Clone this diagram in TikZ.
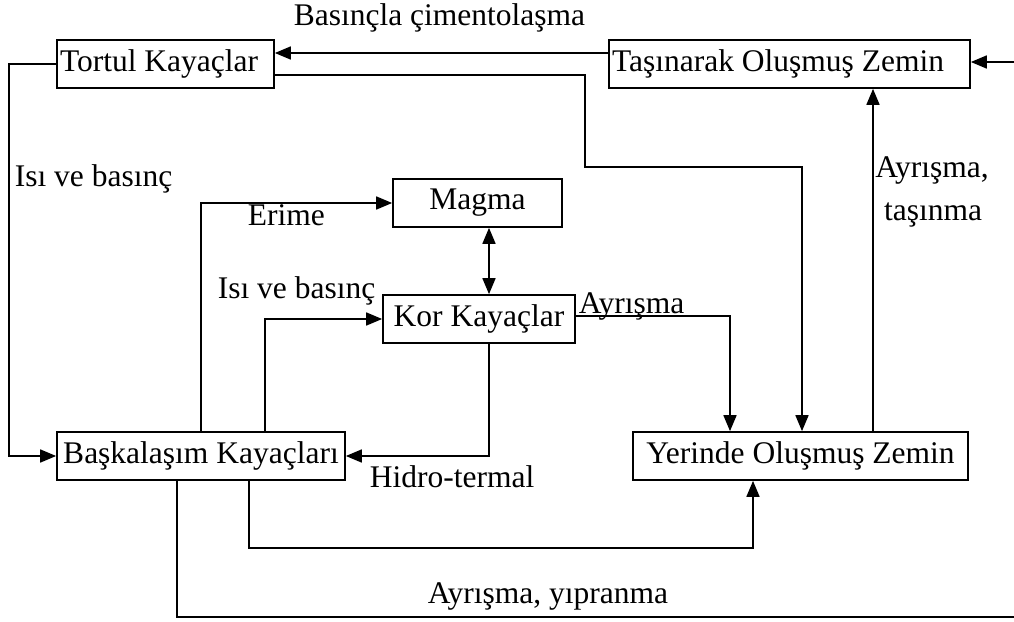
\documentclass[tikz,border=0pt]{standalone}
\usepackage{fontspec}
\setmainfont{Liberation Serif}
\usetikzlibrary{arrows.meta,calc}
\begin{document}
\begin{tikzpicture}[x=1pt,y=-1pt,
  font=\fontsize{31.5}{43}\selectfont,
  line width=1.7pt,
  box/.style={draw, inner xsep=3pt, inner ysep=0pt, minimum height=48pt, anchor=center},
  arr/.style={-{Triangle[length=16pt,width=13pt]}},
  darr/.style={{Triangle[length=16pt,width=13pt]}-{Triangle[length=16pt,width=13pt]}},
  lbl/.style={inner sep=0pt, anchor=base west},
  clbl/.style={inner sep=0pt, anchor=base}]
\useasboundingbox (0,0) rectangle (1014,621);

% boxes
\node[box] (tortul) at (165.5,64) {\makebox[211pt][l]{Tortul Kayaçlar}};
\node[box] (tasin) at (789.5,64) {\makebox[355pt][l]{Taşınarak Oluşmuş Zemin}};
\node[box, minimum width=169pt] (magma) at (477.5,203) {Magma};
\node[box, minimum width=192pt] (kor) at (479,319) {Kor Kayaçlar};
\node[box, minimum width=288pt] (bask) at (201,456) {Başkalaşım Kayaçları};
\node[box, minimum width=335pt] (yer) at (800.5,456) {Yerinde Oluşmuş Zemin};

\coordinate (edgeT) at (1014,62);
\coordinate (edgeB) at (1014,617);

% connectors
\draw[arr] ($(tasin.west)+(0,-11)$) -- ($(tortul.east)+(0,-11)$);
\draw[arr] ($(tortul.east)+(0,11)$) -- (585,75) -- (585,167) -- (802,167) -- (802,0 |- yer.north);
\draw[arr] (tortul.west) -- (9,64) -- (9,456) -- (bask.west);
\draw[arr] (201,0 |- bask.north) -- (201,203) -- (magma.west);
\draw[arr] (265,0 |- bask.north) -- (265,319) -- (kor.west);
\draw[darr] (489,0 |- magma.south) -- (489,0 |- kor.north);
\draw[arr] (489,0 |- kor.south) -- (489,456) -- (bask.east);
\draw[arr] ($(kor.east)+(0,-3)$) -- (730,316) -- (730,0 |- yer.north);
\draw[arr] (873,0 |- yer.north) -- (873,0 |- tasin.south);
\draw[arr] (249,0 |- bask.south) -- (249,548) -- (753,548) -- (753,0 |- yer.south);
\draw (177,0 |- bask.south) -- (177,617) -- (edgeB);
\draw[arr] (edgeT) -- ($(tasin.east)+(0,-2)$);

% labels
\node[lbl] (lcim) at (293,25) {Basınçla çimentolaşma};
\node[lbl] (lisi1) at (14,186) {Isı ve basınç};
\node[lbl] (lerime) at (247,225) {Erime};
\node[lbl] (lisi2) at (217,298) {Isı ve basınç};
\node[lbl] (layr) at (578,313) {Ayrışma};
\node[lbl] (lhid) at (369,487) {Hidro-termal};
\node[clbl] (ltas1) at (932,177) {Ayrışma,};
\node[clbl] (ltas2) at (933,220) {taşınma};
\node[clbl] (lyip) at (548,603) {Ayrışma, yıpranma};
\end{tikzpicture}
\end{document}
